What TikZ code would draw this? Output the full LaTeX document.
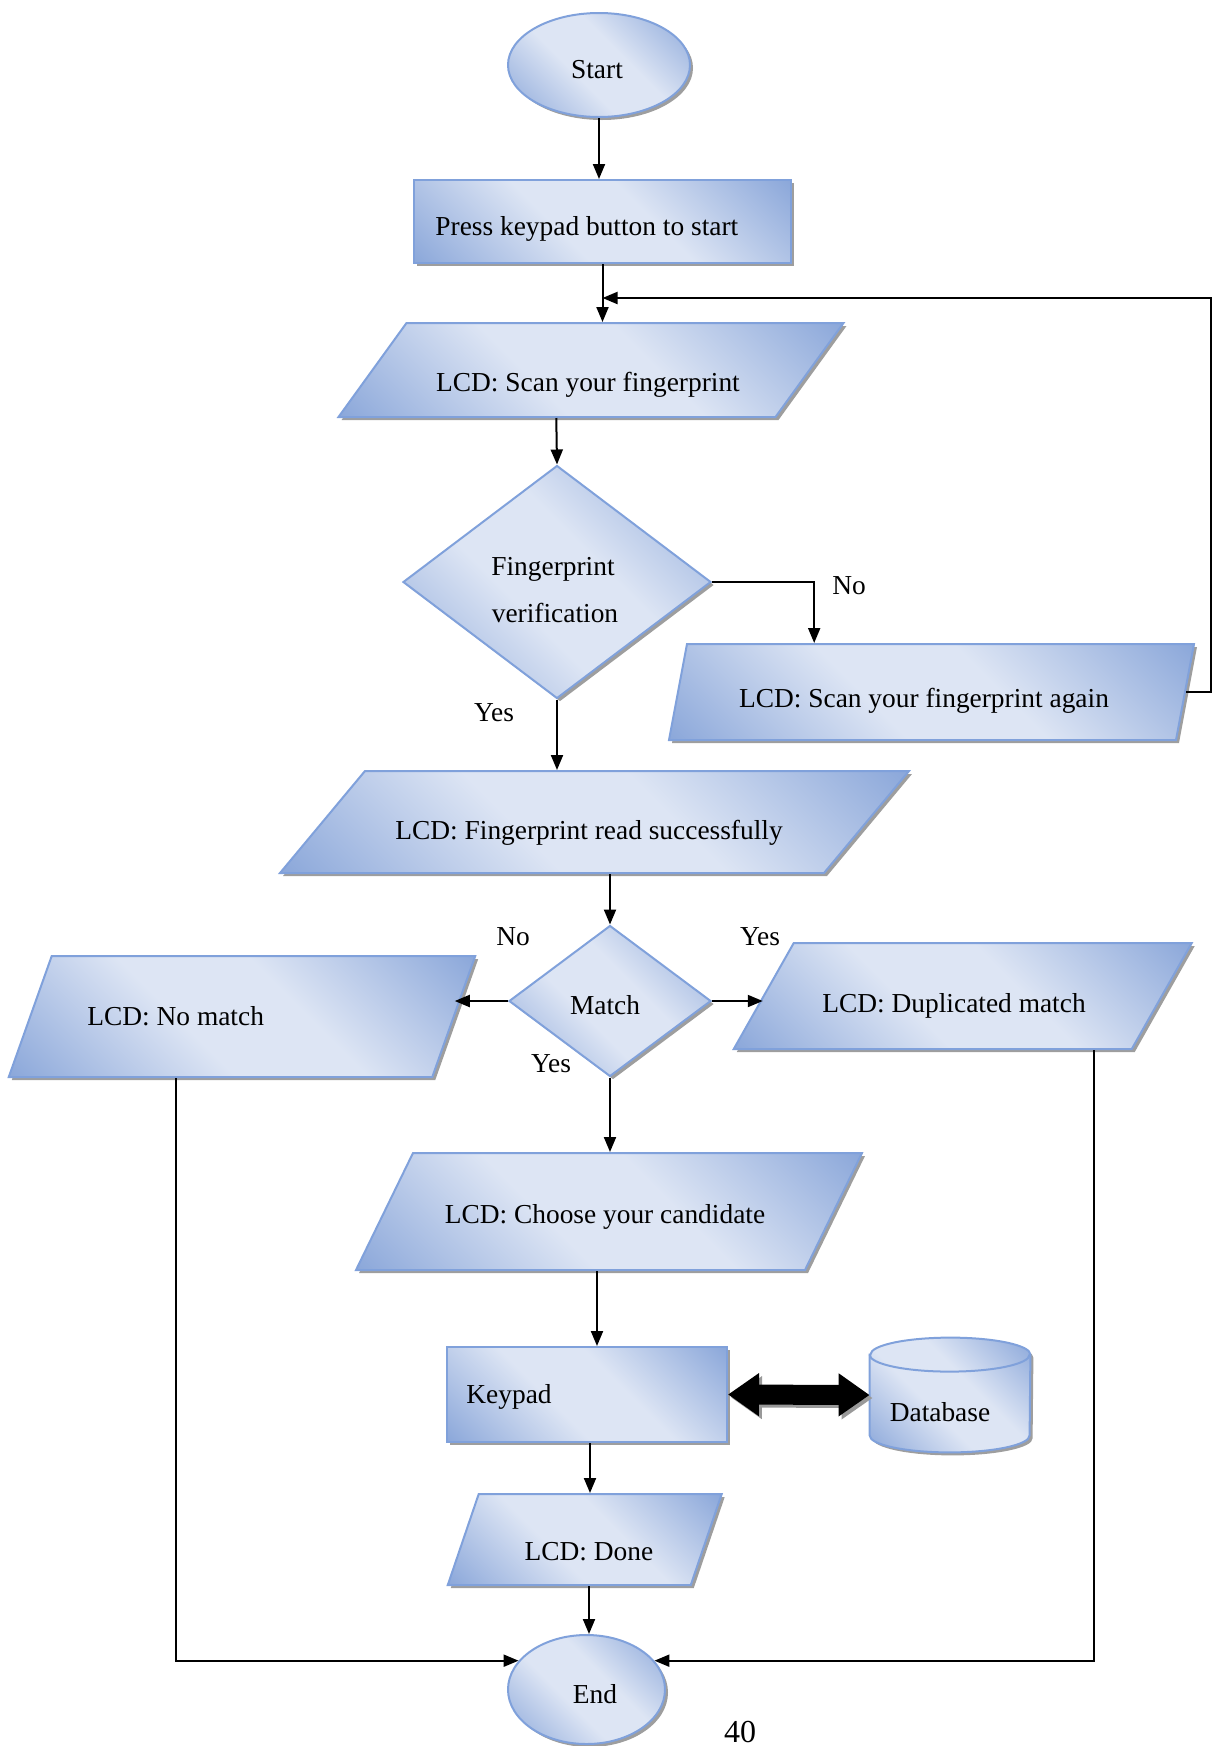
\documentclass[tikz,border=0pt]{standalone}
\usepackage{fontspec}
\setmainfont{Liberation Serif}
\usetikzlibrary{shapes.geometric,shadows,arrows.meta,calc}
\definecolor{plight}{RGB}{221,229,244}
\definecolor{pdark}{RGB}{140,168,218}
\definecolor{pborder}{RGB}{128,161,219}
\pgfdeclarehorizontalshading{wordblue}{100bp}{color(0bp)=(pdark); color(15bp)=(pdark); color(42bp)=(plight); color(58bp)=(plight); color(85bp)=(pdark); color(100bp)=(pdark)}
\tikzset{
  shp/.style={draw=pborder, line width=1pt, shading=wordblue, shading angle=45, inner sep=0pt,
    drop shadow={shadow xshift=1.5pt, shadow yshift=-1.5pt, opacity=1, fill=black!38}},
  txt/.style={inner sep=0pt, font=\fontsize{13.7}{16}\selectfont},
  arr/.style={line width=1pt, -{Triangle[length=7.5pt,width=6pt]}},
  dbl/.style={line width=10pt, {Triangle[length=15.5pt,width=20.5pt]}-{Triangle[length=15.5pt,width=20.5pt]}},
}
\newcommand{\paranode}[6]{\begin{scope}[shift={(#2,#3)},xslant=#6]\node[shp,transform shape,minimum width=#4,minimum height=#5] (#1) at (0,0) {};\end{scope}}
\begin{document}
\begin{tikzpicture}[x=0.5pt,y=-0.5pt]
\useasboundingbox (0,0) rectangle (1216,1746);

% Start
\node[shp, ellipse, minimum width=91pt, minimum height=52pt] (start) at (599,65) {};
\node[txt, anchor=base] (startT) at (597,78) {Start};

% Box 1
\node[shp, rectangle, minimum width=188.5pt, minimum height=41.5pt] (b1) at (602.5,221.5) {};
\node[txt, anchor=base west] (b1T) at (435,235) {Press keypad button to start};

% Para 1
\paranode{p1}{591}{370}{218.5pt}{47pt}{0.7234}
\node[txt, anchor=base] (p1T) at (588,391) {LCD: Scan your fingerprint};

% Diamond 1
\node[shp, diamond, minimum width=154pt, minimum height=116.5pt] (d1) at (557,582) {};
\node[txt, anchor=base] (d1Ta) at (553,575) {Fingerprint};
\node[txt, anchor=base] (d1Tb) at (555,622) {verification};

% Again
\paranode{ag}{931.5}{692}{253.5pt}{48pt}{0.1875}
\node[txt, anchor=base] (agT) at (924,707) {LCD: Scan your fingerprint again};

\node[txt, anchor=base] (no1) at (849,594) {No};
\node[txt, anchor=base] (yes1) at (494,721) {Yes};

% Para 2
\paranode{p2}{594.5}{822}{272pt}{51pt}{0.833}
\node[txt, anchor=base west] (p2T) at (395,839) {LCD: Fingerprint read successfully};

% Match
\node[shp, diamond, minimum width=101pt, minimum height=75.5pt] (m) at (610,1001) {};
\node[txt, anchor=base] (mT) at (605,1014) {Match};
\node[txt, anchor=base] (no2) at (513,945) {No};
\node[txt, anchor=base] (yes2) at (760,945) {Yes};
\node[txt, anchor=base] (yes3) at (551,1072) {Yes};

% No match
\paranode{nm}{242}{1016.5}{211.75pt}{60.5pt}{0.355}
\node[txt, anchor=base west] (nmT) at (87,1025) {LCD: No match};

% Duplicated
\paranode{dp}{962.75}{996}{199pt}{53pt}{0.566}
\node[txt, anchor=base west] (dpT) at (822,1012) {LCD: Duplicated match};

% Choose
\paranode{ch}{609}{1211.5}{224.5pt}{58.5pt}{0.487}
\node[txt, anchor=base] (chT) at (605,1223) {LCD: Choose your candidate};

% Keypad
\node[shp, rectangle, minimum width=140pt, minimum height=47.5pt] (kp) at (587,1394.5) {};
\node[txt, anchor=base west] (kpT) at (466,1403) {Keypad};

% Database (cylinder)
\node[inner sep=0pt, minimum width=80pt, minimum height=57pt] (db) at (950,1395) {};
\path[shp] ([yshift=-8.5pt]db.north west) -- ([yshift=8.5pt]db.south west)
  arc[start angle=180, end angle=360, x radius=40pt, y radius=8.5pt]
  -- ([yshift=-8.5pt]db.north east)
  arc[start angle=0, end angle=180, x radius=40pt, y radius=8.5pt] -- cycle;
\draw[pborder, line width=1pt] ([yshift=-8.5pt]db.north west)
  arc[start angle=180, end angle=360, x radius=40pt, y radius=8.5pt];
\node[txt, anchor=base] (dbT) at (940,1421) {Database};

% Done
\paranode{dn}{584.75}{1539.5}{121.5pt}{45.5pt}{0.34}
\node[txt, anchor=base] (dnT) at (589,1560) {LCD: Done};

% End
\node[shp, ellipse, minimum width=78.5pt, minimum height=54.5pt] (end) at (586.5,1689.5) {};
\node[txt, anchor=base] (endT) at (595,1703) {End};

\node[anchor=base, inner sep=0pt, font=\fontsize{16}{18}\selectfont] (pg) at (740,1742) {40};

% Connectors
\coordinate (loopIn) at (b1.south |- 0,298);
\coordinate (kpIn) at ([xshift=5pt]kp.north);
\coordinate (kpOut) at ([xshift=1.5pt]kp.south);
\coordinate (endIn) at ([xshift=1.25pt]end.north);
\coordinate (nmOut) at ([xshift=-22pt]nm.south);
\coordinate (dpOut) at ([xshift=80.75pt]dp.south);

\draw[arr] (start.south) -- (start.south |- b1.north);
\draw[arr] (b1.south) -- (b1.south |- p1.north);
\draw[arr] (ag.east) -- ++(25,0) |- (loopIn);
\draw[arr] (p1.south) -- (d1.north);
\draw[arr] (d1.east) -| ([xshift=64pt]ag.north west);
\draw[arr] (d1.south) -- (d1.south |- p2.north);
\draw[arr] (m.north |- p2.south) -- (m.north);
\draw[arr] (m.west) -- (m.west -| nm.east);
\draw[arr] (m.east) -- (m.east -| dp.west);
\draw[arr] (m.south) -- (m.south |- ch.north);
\draw[arr] (kpIn |- ch.south) -- (kpIn);
\draw[dbl, black!40] ([shift={(1.5pt,-1.5pt)}]kp.east) -- ([shift={(1.5pt,-1.5pt)}]db.west);
\draw[dbl, black] (kp.east) -- (db.west);
\draw[arr] (kpOut) -- (kpOut |- dn.north);
\draw[arr] (endIn |- dn.south) -- (endIn);
\draw[arr] (nmOut) |- (end.157);
\draw[arr] (dpOut) |- (end.23);
\end{tikzpicture}
\end{document}
